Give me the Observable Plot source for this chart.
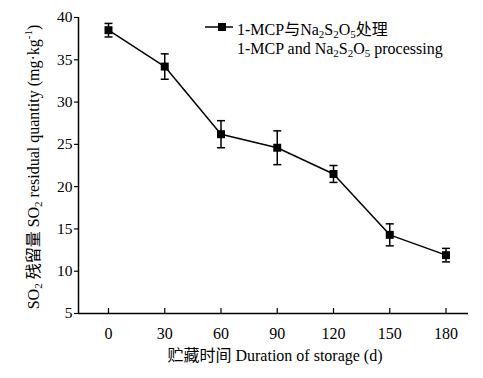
<!DOCTYPE html>
<html><head><meta charset="utf-8">
<script src="https://cdn.jsdelivr.net/npm/d3@7"></script>
<script src="https://cdn.jsdelivr.net/npm/@observablehq/plot@0.6"></script>
<style>
body{margin:0;background:#fff}
#chart{position:relative;width:483px;height:378px}
</style></head><body><div id="chart"></div>
<script>
const days = [0, 30, 60, 90, 120, 150, 180];
const so2 = [38.5, 34.2, 26.2, 24.6, 21.5, 14.3, 11.9];
const sd = [0.8, 1.5, 1.6, 2.0, 1.0, 1.3, 0.8];
const xTicks = [0, 30, 60, 90, 120, 150, 180];
const yTicks = [5, 10, 15, 20, 25, 30, 35, 40];
const xDomain = [-16, 192], yDomain = [5, 40];
const seriesName = ["1-MCP与Na", "2", "S", "2", "O", "5", "处理"];
const seriesNameEn = ["1-MCP and Na", "2", "S", "2", "O", "5", " processing"];
const yLabel = ["SO", "2", " 残留量 SO", "2", " residual quantity (mg·kg", "-1", ")"];
const xLabel = "贮藏时间 Duration of storage (d)";

const data = days.map((d, i) => ({day: d, v: so2[i], lo: so2[i] - sd[i], hi: so2[i] + sd[i]}));
const font = '"Liberation Serif","Times New Roman","Noto Sans CJK SC",serif';
const capSymbol = {draw(ctx, size) { const w = Math.sqrt(size / Math.PI); ctx.moveTo(-w, 0); ctx.lineTo(w, 0); }};

const plot = Plot.plot({
  width: 483, height: 378,
  marginLeft: 78, marginRight: 15, marginTop: 17, marginBottom: 65,
  style: {fontFamily: font, fontSize: "16px", background: "#fff", color: "#000"},
  x: {domain: xDomain},
  y: {domain: yDomain},
  marks: [
    Plot.axisY({ticks: yTicks, tickSize: 4, tickPadding: 2, label: null, tickFormat: d => d, strokeWidth: 1.2, fontSize: 15.5}),
    Plot.axisX({ticks: xTicks, tickSize: -5, tickPadding: 19, label: null, tickFormat: d => d, strokeWidth: 1.2, fontSize: 16}),
    Plot.ruleX([xDomain[0]], {strokeWidth: 1.5}),
    Plot.ruleY([yDomain[0]], {strokeWidth: 1.5}),
    Plot.line(data, {x: "day", y: "v", strokeWidth: 1.5}),
    Plot.ruleX(data, {x: "day", y1: "lo", y2: "hi", strokeWidth: 1.5}),
    Plot.dot(data, {x: "day", y: "lo", symbol: capSymbol, r: 4, stroke: "black", strokeWidth: 1.5}),
    Plot.dot(data, {x: "day", y: "hi", symbol: capSymbol, r: 4, stroke: "black", strokeWidth: 1.5}),
    Plot.dot(data, {x: "day", y: "v", symbol: "square", r: 4.5, fill: "black", stroke: "none"})
  ]
});
document.getElementById("chart").appendChild(plot);

const svg = d3.select(plot);
function richText(sel, parts) {
  parts.forEach((p, i) => {
    const isSub = i % 2 === 1;
    const t = sel.append("tspan").text(p);
    if (isSub) {
      const sup = p.startsWith("-");
      t.attr("font-size", "11px").attr("dy", sup ? -7 : 3);
    } else if (i > 0) {
      const prevSup = parts[i - 1].startsWith("-");
      t.attr("dy", prevSup ? 7 : -3);
    }
  });
}
// y label
const yl = svg.append("text")
  .attr("transform", "translate(39,167) rotate(-90)")
  .attr("text-anchor", "middle")
  .attr("font-family", font).attr("font-size", "16px").attr("fill", "black");
richText(yl, yLabel);
// x label
svg.append("text").attr("x", 275).attr("y", 361).attr("text-anchor", "middle")
  .attr("font-family", font).attr("font-size", "16px").attr("fill", "black").text(xLabel);
// legend
const lg = svg.append("g").attr("font-family", font).attr("font-size", "16px").attr("fill", "black").attr("text-anchor", "start");
lg.append("line").attr("x1", 205).attr("x2", 233).attr("y1", 27).attr("y2", 27).attr("stroke", "black").attr("stroke-width", 1.5);
lg.append("rect").attr("x", 218).attr("y", 23).attr("width", 8).attr("height", 8).attr("fill", "black");
richText(lg.append("text").attr("x", 237).attr("y", 35), seriesName);
richText(lg.append("text").attr("x", 237).attr("y", 54), seriesNameEn);
</script></body></html>
